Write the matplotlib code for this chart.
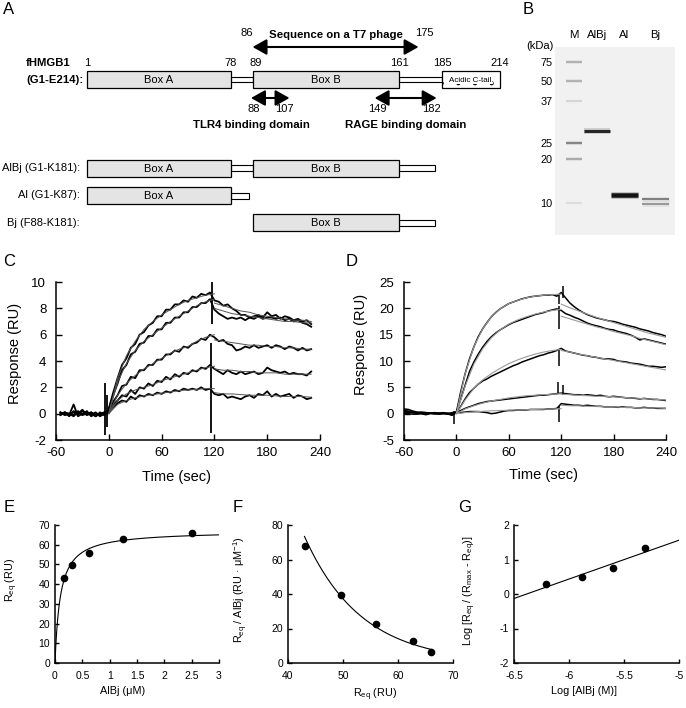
import numpy as np
import matplotlib
matplotlib.use("Agg")
import matplotlib.pyplot as plt
from matplotlib.patches import Rectangle
from matplotlib.ticker import FuncFormatter

plt.rcParams['font.family'] = ['Liberation Sans', 'DejaVu Sans']
plt.rcParams['mathtext.fontset'] = 'custom'
plt.rcParams['mathtext.rm'] = 'Liberation Sans'
plt.rcParams['mathtext.it'] = 'Liberation Sans:italic'
plt.rcParams['axes.unicode_minus'] = False
plt.rcParams['hatch.linewidth'] = 0.5

# ---------------- Panel A data (residue numbers) ----------------
res_anchor = [1, 78, 89, 161, 185, 214]
px_anchor = [87, 231, 253, 399, 442, 500]
full_numbers = [1, 78, 89, 161, 185, 214]
box_names = ["Box A", "Box B"]
box_start = [1, 89]
box_end = [78, 161]
linker_start = [78, 161]
linker_end = [89, 185]
acidic_range = (185, 214)
t7_range = (86, 175)
tlr4_range = (88, 107)
rage_range = (149, 182)
construct_names = ["AlBj (G1-K181):", "Al (G1-K87):", "Bj (F88-K181):"]
construct_start = [1, 1, 88]
construct_end = [181, 87, 181]

# ---------------- Panel B data (gel) ----------------
gel_lanes = ["M", "AlBj", "Al", "Bj"]
marker_kda = [75, 50, 37, 25, 20, 10]
marker_mig = [15, 34, 54, 96, 112, 156]
marker_dark = [0.35, 0.35, 0.18, 0.55, 0.38, 0.15]
band_lane = ["AlBj", "Al", "Bj", "Bj"]
band_mig = [84, 148, 152, 157]
band_dark = [0.85, 0.92, 0.5, 0.4]
band_thick = [3.0, 4.5, 2.0, 2.0]

# ---------------- Panel C data (sensorgrams) ----------------
t_c = np.arange(-55, 231, 5)
c_resp = [
    [-0.1, 0.1, -0.2, 0.2, 0.0, 0.3, -0.1, 0.1, -0.2, 0.0, -0.1,
     0.4, 1.6, 2.7, 3.7, 4.2, 5.0, 5.3, 6.0, 6.2, 6.7, 6.9, 7.4, 7.4, 7.9, 7.9, 8.3, 8.3, 8.6, 8.5, 8.9, 8.8, 9.1, 9.0, 9.2,
     8.6, 8.5, 8.2, 8.3, 8.0, 7.8, 7.5, 7.5, 7.3, 7.4, 7.5, 7.3, 7.7, 7.4, 7.5, 7.2, 7.4, 7.3, 7.1, 7.2, 7.0, 7.1, 6.8],
    [0.1, -0.1, 0.0, -0.2, 0.1, -0.1, 0.2, -0.2, 0.0, -0.1, 0.1,
     0.3, 1.4, 2.3, 3.3, 3.7, 4.5, 4.7, 5.3, 5.4, 5.9, 5.9, 6.4, 6.4, 6.9, 6.9, 7.3, 7.3, 7.7, 7.7, 8.1, 8.1, 8.4, 8.4, 8.7,
     7.9, 7.6, 7.4, 7.2, 7.3, 7.2, 7.3, 7.1, 7.3, 7.2, 7.4, 7.2, 7.3, 7.3, 7.2, 7.3, 7.1, 7.2, 7.0, 7.1, 6.9, 6.8, 6.6],
    [0.0, 0.1, -0.1, 0.7, -0.2, 0.0, 0.1, -0.1, 0.1, -0.2, 0.0,
     0.2, 0.9, 1.4, 2.1, 2.2, 2.8, 2.7, 3.3, 3.3, 3.7, 3.7, 4.1, 4.1, 4.5, 4.5, 4.8, 4.7, 5.1, 5.0, 5.3, 5.4, 5.7, 5.6, 6.0,
     5.8, 5.5, 5.6, 5.3, 5.2, 4.8, 4.9, 5.1, 5.0, 5.2, 5.0, 5.1, 5.2, 5.0, 5.2, 5.1, 4.9, 5.1, 5.0, 4.8, 5.0, 4.8, 4.9],
    [0.1, -0.1, 0.0, 0.1, -0.1, 0.2, -0.1, 0.0, -0.2, 0.1, -0.1,
     0.1, 0.7, 1.0, 1.4, 1.3, 1.8, 1.5, 2.0, 1.9, 2.3, 2.1, 2.5, 2.4, 2.8, 2.6, 3.0, 2.8, 3.1, 3.0, 3.3, 3.2, 3.5, 3.4, 3.7,
     3.4, 3.2, 3.0, 3.3, 3.1, 3.0, 3.2, 3.0, 3.1, 3.2, 3.0, 3.1, 3.5, 3.3, 3.2, 3.1, 3.2, 3.0, 3.1, 3.0, 3.0, 2.9, 3.2],
    [-0.1, 0.1, 0.0, -0.1, 0.2, -0.1, 0.0, 0.1, -0.1, 0.0, 0.1,
     0.1, 0.5, 0.8, 1.0, 0.9, 1.3, 1.1, 1.4, 1.3, 1.5, 1.4, 1.6, 1.5, 1.7, 1.6, 1.8, 1.7, 1.9, 1.8, 1.9, 1.8, 2.0, 1.8, 1.9,
     1.5, 1.4, 1.5, 1.2, 1.3, 1.2, 1.1, 1.3, 1.4, 1.2, 1.5, 1.4, 1.7, 1.3, 1.5, 1.3, 1.4, 1.5, 1.2, 1.4, 1.3, 1.1, 1.2],
]
t_fit_assoc = np.arange(0, 121, 10)
t_c_fit_dis = np.arange(120, 231, 10)
c_fit_assoc = [
    [0, 2.7, 4.4, 5.5, 6.4, 7.0, 7.5, 7.9, 8.3, 8.6, 8.8, 9.0, 9.1],
    [0, 2.4, 3.8, 4.8, 5.5, 6.0, 6.5, 7.0, 7.4, 7.8, 8.2, 8.5, 8.7],
    [0, 1.4, 2.3, 2.9, 3.4, 3.8, 4.2, 4.6, 4.9, 5.1, 5.5, 5.8, 6.0],
    [0, 1.0, 1.5, 1.8, 2.0, 2.2, 2.5, 2.7, 2.9, 3.1, 3.3, 3.5, 3.6],
    [0, 0.7, 1.0, 1.2, 1.35, 1.45, 1.55, 1.65, 1.75, 1.8, 1.85, 1.9, 1.9],
]
c_fit_dis = [
    [8.4, 8.2, 8.0, 7.8, 7.7, 7.5, 7.4, 7.3, 7.2, 7.1, 7.1, 7.0],
    [8.0, 7.8, 7.6, 7.5, 7.4, 7.3, 7.2, 7.1, 7.0, 7.0, 6.9, 6.9],
    [5.6, 5.5, 5.4, 5.3, 5.2, 5.2, 5.1, 5.1, 5.0, 5.0, 4.9, 4.9],
    [3.4, 3.3, 3.3, 3.2, 3.2, 3.1, 3.1, 3.1, 3.0, 3.0, 3.0, 3.0],
    [1.6, 1.5, 1.5, 1.45, 1.4, 1.4, 1.4, 1.35, 1.3, 1.3, 1.3, 1.25],
]
c_spike_t = [-4, -2, 116, 117]
c_spike_lo = [-1.6, -1.0, -1.45, 6.8]
c_spike_hi = [2.3, 1.4, 5.4, 10.0]

# ---------------- Panel D data (sensorgrams) ----------------
t_d = np.arange(-60, 241, 5)
d_resp = [
    [0.4, 0.3, 0.3, 0.2, 0.3, 0.2, 0.1, 0.2, 0.1, 0.2, 0.0, -0.2,
     0.3, 4.2, 7.6, 10.4, 12.7, 14.6, 16.1, 17.3, 18.4, 19.2, 19.9, 20.4, 20.9, 21.2, 21.5, 21.8, 22.0, 22.2, 22.3, 22.4, 22.5, 22.5, 22.6, 22.3,
     23.0, 22.0, 21.0, 20.3, 19.7, 19.2, 18.8, 18.5, 18.2, 18.0, 17.8, 17.6, 17.5, 17.3, 17.0, 16.8, 16.6, 16.4, 16.1, 15.9, 15.7, 15.4, 15.2, 15.0, 14.7],
    [0.9, 0.8, 0.5, 0.3, 0.2, 0.2, 0.1, 0.1, 0.0, 0.1, 0.0, 0.2,
     0.3, 2.8, 5.4, 8.0, 9.8, 11.3, 12.6, 13.7, 14.6, 15.3, 15.9, 16.4, 16.9, 17.3, 17.6, 17.9, 18.2, 18.5, 18.8, 19.0, 19.2, 19.5, 19.7, 19.9,
     19.6, 19.0, 18.7, 18.3, 18.0, 17.6, 17.2, 16.9, 16.7, 16.5, 16.2, 16.0, 15.9, 15.6, 15.4, 15.2, 14.9, 14.5, 14.0, 14.2, 14.0, 13.8, 13.6, 13.4, 13.2],
    [0.3, 0.2, 0.2, 0.1, 0.0, -0.1, 0.1, 0.0, 0.1, 0.1, 0.0, -0.3,
     0.2, 1.4, 2.8, 4.0, 4.8, 5.6, 6.2, 6.6, 7.1, 7.5, 7.9, 8.3, 8.7, 9.1, 9.4, 9.8, 10.1, 10.4, 10.7, 11.0, 11.2, 11.5, 11.7, 12.0,
     12.4, 11.9, 11.7, 11.5, 11.3, 11.1, 11.0, 10.8, 10.7, 10.5, 10.4, 10.4, 10.3, 10.0, 9.9, 9.8, 9.6, 9.5, 9.4, 9.2, 9.0, 9.0, 8.9, 8.8, 8.9],
    [0.1, 0.0, -0.1, -0.1, 0.0, -0.2, 0.0, 0.0, -0.1, 0.0, 0.1, 0.0,
     0.3, 0.6, 1.0, 1.3, 1.6, 1.9, 2.1, 2.3, 2.4, 2.5, 2.6, 2.7, 2.8, 2.9, 3.0, 3.1, 3.2, 3.3, 3.4, 3.5, 3.5, 3.6, 3.7, 3.8,
     3.9, 3.8, 3.7, 3.6, 3.6, 3.5, 3.6, 3.5, 3.4, 3.5, 3.3, 3.2, 3.3, 3.2, 3.1, 3.0, 3.0, 2.9, 2.8, 2.9, 2.8, 2.7, 2.7, 2.6, 2.5],
    [0.6, 0.5, 0.2, 0.1, 0.1, 0.0, 0.1, 0.0, 0.0, 0.0, -0.1, -0.2,
     0.2, 0.2, 0.3, 0.4, 0.4, 0.4, 0.3, 0.2, 0.0, 0.1, 0.3, 0.5, 0.6, 0.6, 0.7, 0.7, 0.7, 0.8, 0.8, 0.8, 0.8, 0.9, 0.9, 1.0,
     1.9, 1.8, 1.7, 1.6, 1.6, 1.5, 1.6, 1.5, 1.4, 1.4, 1.3, 1.3, 1.3, 1.2, 1.3, 1.2, 1.2, 1.1, 1.1, 1.2, 1.1, 1.1, 1.0, 1.0, 1.0],
]
t_d_fit_dis = np.arange(120, 241, 10)
d_fit_assoc = [
    [0, 7.6, 12.7, 16.1, 18.4, 19.9, 20.9, 21.5, 22.0, 22.3, 22.5, 22.6, 22.7],
    [0, 5.2, 9.4, 12.3, 14.4, 15.9, 17.0, 17.8, 18.4, 18.9, 19.3, 19.6, 19.8],
    [0, 2.6, 4.8, 6.4, 7.6, 8.6, 9.5, 10.2, 10.8, 11.3, 11.7, 12.0, 12.2],
    [0, 0.9, 1.5, 2.0, 2.4, 2.7, 3.0, 3.2, 3.4, 3.5, 3.6, 3.7, 3.8],
    [0, 0.2, 0.35, 0.45, 0.55, 0.6, 0.65, 0.7, 0.75, 0.8, 0.85, 0.9, 0.95],
]
d_fit_dis = [
    [20.8, 20.1, 19.5, 18.9, 18.3, 17.8, 17.3, 16.8, 16.3, 15.8, 15.3, 14.9, 14.5],
    [18.5, 18.0, 17.5, 17.0, 16.5, 16.1, 15.6, 15.2, 14.8, 14.3, 13.9, 13.5, 13.1],
    [12.0, 11.7, 11.3, 11.0, 10.7, 10.4, 10.1, 9.8, 9.5, 9.2, 8.9, 8.6, 8.3],
    [3.7, 3.6, 3.5, 3.4, 3.3, 3.3, 3.2, 3.1, 3.0, 2.9, 2.8, 2.7, 2.6],
    [1.6, 1.5, 1.5, 1.4, 1.4, 1.3, 1.3, 1.2, 1.2, 1.1, 1.1, 1.1, 1.0],
]
d_spike_t = [-3, 116, 118, 118, 118, 118, 122, 122]
d_spike_lo = [-2.0, 3.8, 20.8, 16.0, 9.0, -1.5, 3.6, 22.0]
d_spike_hi = [0.5, 6.1, 22.6, 20.5, 12.3, 1.5, 5.5, 24.2]

# ---------------- Panels E-G data ----------------
albj_conc = np.array([0.156, 0.3125, 0.625, 1.25, 2.5])      # uM
req_ru = np.array([43.0, 49.7, 56.0, 62.7, 66.0])
scatchard_y = np.array([68.0, 39.4, 22.4, 12.9, 6.5])
hill_x = np.array([-6.21, -5.88, -5.60, -5.31])
hill_y = np.array([0.29, 0.49, 0.75, 1.33])

# ================= Figure =================
W, H = 686, 708
fig = plt.figure(figsize=(W / 100, H / 100), dpi=100)


def px_axes(l, t, r, b):
    return fig.add_axes([l / W, 1 - b / H, (r - l) / W, (b - t) / H])


ax0 = fig.add_axes([0, 0, 1, 1])
ax0.set_xlim(0, W)
ax0.set_ylim(H, 0)
ax0.axis('off')


def rx(r):
    return float(np.interp(r, res_anchor, px_anchor))


box_fc = '#e4e4e4'
afs = 8
# panel letters
for lab, x, y in [("A", 9, 10), ("B", 528, 10), ("C", 9, 262), ("D", 352, 262),
                  ("E", 9, 507), ("F", 238, 507), ("G", 465, 507)]:
    ax0.text(x, y, lab, fontsize=12, ha='center', va='center')

# ---- full-length row ----
fy, bh, lh = 79.5, 17, 5
for s, e in zip(linker_start, linker_end):
    ax0.add_patch(Rectangle((rx(s), fy - lh / 2), rx(e) - rx(s), lh, fc='white', ec='black', lw=0.8, zorder=1))
for name, s, e in zip(box_names, box_start, box_end):
    ax0.add_patch(Rectangle((rx(s), fy - bh / 2), rx(e) - rx(s), bh, fc=box_fc, ec='black', lw=0.9, zorder=2))
    ax0.text((rx(s) + rx(e)) / 2, fy + 0.5, name, fontsize=afs, ha='center', va='center', zorder=3)
a0, a1 = acidic_range
ax0.add_patch(Rectangle((rx(a0), fy - bh / 2), rx(a1) - rx(a0), bh, fc='white', ec='black', lw=0.9,
                        hatch='.', zorder=2))
ax0.text((rx(a0) + rx(a1)) / 2, fy + 0.5, "Acidic C-tail.", fontsize=5.8, ha='center', va='center', zorder=3,
         bbox=dict(fc='white', ec='none', pad=0.2))
for n in full_numbers:
    ax0.text(rx(n) + (3 if n == 89 else 0), 63, str(n), fontsize=afs, ha='center', va='center')
ax0.text(26, 63, "fHMGB1", fontsize=8.2, fontweight='bold', ha='left', va='center')
ax0.text(26, 80, "(G1-E214):", fontsize=8.2, fontweight='bold', ha='left', va='center')

# arrows
arrow_kw = dict(arrowstyle='<|-|>,head_length=0.5,head_width=0.28', color='black', lw=1.5, mutation_scale=17)
ax0.annotate('', xy=(rx(t7_range[1]), 47), xytext=(rx(t7_range[0]), 47),
             arrowprops=dict(shrinkA=4, shrinkB=4, **arrow_kw))
ax0.text(rx(t7_range[0]), 33, str(t7_range[0]), fontsize=afs, ha='center', va='center')
ax0.text(rx(t7_range[1]), 33, str(t7_range[1]), fontsize=afs, ha='center', va='center')
ax0.text((rx(t7_range[0]) + rx(t7_range[1])) / 2, 35, "Sequence on a T7 phage", fontsize=8.2,
         fontweight='bold', ha='center', va='center')

for rng, name, tx in [(tlr4_range, "TLR4 binding domain", rx(tlr4_range[0])),
                      (rage_range, "RAGE binding domain", (rx(rage_range[0]) + rx(rage_range[1])) / 2)]:
    ax0.annotate('', xy=(rx(rng[1]), 98), xytext=(rx(rng[0]), 98),
                 arrowprops=dict(shrinkA=0, shrinkB=0, **arrow_kw))
    ax0.text(rx(rng[0]) + 3, 109, str(rng[0]), fontsize=afs, ha='center', va='center')
    ax0.text(rx(rng[1]) - 5, 109, str(rng[1]), fontsize=afs, ha='center', va='center')
    ax0.text(tx, 125, name, fontsize=8.2, fontweight='bold', ha='center', va='center')

# ---- construct rows ----
row_y = [168, 195.5, 222.5]
th = 6
for name, s, e, y in zip(construct_names, construct_start, construct_end, row_y):
    for ls, le in zip(linker_start, linker_end):
        s2, e2 = max(s, ls), min(e, le)
        if e2 - s2 > 1.5:
            ax0.add_patch(Rectangle((rx(s2), y - th / 2), rx(e2) - rx(s2), th, fc='white', ec='black',
                                    lw=0.8, zorder=1))
    for bn, bs, be in zip(box_names, box_start, box_end):
        s2, e2 = max(s, bs), min(e, be)
        if e2 > s2:
            ax0.add_patch(Rectangle((rx(s2), y - bh / 2), rx(e2) - rx(s2), bh, fc=box_fc, ec='black',
                                    lw=0.9, zorder=2))
            ax0.text((rx(s2) + rx(e2)) / 2, y + 0.5, bn, fontsize=afs, ha='center', va='center', zorder=3)
    ax0.text(80, y, name, fontsize=afs, ha='right', va='center')

# ================= Panel B: gel =================
axg = px_axes(555, 47, 675, 235)
axg.set_xlim(0, 120)
axg.set_ylim(188, 0)
axg.set_facecolor('#f1f1f1')
for s in axg.spines.values():
    s.set_visible(False)
lane_x = {"M": 19, "AlBj": 42, "Al": 69, "Bj": 100}
lane_w = {"M": 16, "AlBj": 26, "Al": 27, "Bj": 27}
px_pt = 0.72


def band(ax, lane, mig, dark, thick):
    x0 = lane_x[lane] - lane_w[lane] / 2
    x1 = lane_x[lane] + lane_w[lane] / 2
    g = 1 - dark
    ax.hlines(mig, x0, x1, color=str(min(1, g + (1 - g) * 0.6)), lw=(thick + 2.5) * px_pt, alpha=0.6)
    ax.hlines(mig, x0, x1, color=str(g), lw=thick * px_pt)


for m, d in zip(marker_mig, marker_dark):
    band(axg, "M", m, d, 1.6)
for ln, m, d, t in zip(band_lane, band_mig, band_dark, band_thick):
    band(axg, ln, m, d, t)
axg.set_xticks([])
axg.set_yticks(marker_mig)
axg.set_yticklabels([str(k) for k in marker_kda], fontsize=7.8)
axg.tick_params(axis='y', length=0, pad=2)
axg.text(-1, -1, "(kDa)", fontsize=8, ha='right', va='center', clip_on=False)
for ln in gel_lanes:
    axg.text(lane_x[ln], -12, ln, fontsize=8.2, ha='center', va='center', clip_on=False)


# ================= common axis style =================
def style(ax, fs, xpad, ypad, tl):
    for s in ['top', 'right']:
        ax.spines[s].set_visible(False)
    for s in ['left', 'bottom']:
        ax.spines[s].set_linewidth(1.1)
    ax.tick_params(direction='in', length=tl, width=1.0, labelsize=fs)
    ax.tick_params(axis='x', pad=xpad)
    ax.tick_params(axis='y', pad=ypad)


gfmt = FuncFormatter(lambda v, p: '%g' % v)

# ================= Panel C =================
axc = px_axes(56, 282, 320, 440)
for fa, fd in zip(c_fit_assoc, c_fit_dis):
    axc.plot(t_fit_assoc, fa, color='#555555', lw=0.7, zorder=3)
    axc.plot(t_c_fit_dis, fd, color='#555555', lw=0.7, zorder=3)
for r in c_resp:
    axc.plot(t_c, r, color='black', lw=1.3, zorder=2)
axc.vlines(c_spike_t, c_spike_lo, c_spike_hi, color='black', lw=1.3, zorder=2)
axc.set_xlim(-60, 240)
axc.set_ylim(-2, 10)
axc.set_xticks([-60, 0, 60, 120, 180, 240])
axc.set_yticks([-2, 0, 2, 4, 6, 8, 10])
style(axc, 9.5, 5, 7, 4)
axc.set_xlabel("Time (sec)", fontsize=10.5)
axc.set_ylabel("Response (RU)", fontsize=10.5)
axc.xaxis.set_label_coords(0.455, -0.19)
axc.yaxis.set_label_coords(-0.129, 0.547)

# ================= Panel D =================
axd = px_axes(404, 282, 666, 440)
for r in d_resp:
    axd.plot(t_d, r, color='black', lw=1.1, zorder=2)
axd.vlines(d_spike_t, d_spike_lo, d_spike_hi, color='black', lw=1.1, zorder=2)
for fa, fd in zip(d_fit_assoc, d_fit_dis):
    axd.plot(t_fit_assoc, fa, color='#9a9a9a', lw=0.8, zorder=3)
    axd.plot(t_d_fit_dis, fd, color='#9a9a9a', lw=0.8, zorder=3)
axd.set_xlim(-60, 240)
axd.set_ylim(-5, 25)
axd.set_xticks([-60, 0, 60, 120, 180, 240])
axd.set_yticks([-5, 0, 5, 10, 15, 20, 25])
style(axd, 9.5, 5, 7, 4)
axd.set_xlabel("Time (sec)", fontsize=10.5)
axd.set_ylabel("Response (RU)", fontsize=10.5)
axd.xaxis.set_label_coords(0.534, -0.177)
axd.yaxis.set_label_coords(-0.137, 0.604)

# ================= Panel E =================
axe = px_axes(55, 525, 219, 663)
kd_grid = np.linspace(0.005, 1.0, 4000)
best = (np.inf, 0, 0)
for kd in kd_grid:
    f = albj_conc / (kd + albj_conc)
    rmax = (f @ req_ru) / (f @ f)
    sse = np.sum((req_ru - rmax * f) ** 2)
    if sse < best[0]:
        best = (sse, kd, rmax)
_, kd_fit, rmax_fit = best
xs = np.linspace(0, 3, 600)
axe.plot(xs, rmax_fit * xs / (kd_fit + xs), color='black', lw=0.8)
axe.plot(albj_conc, req_ru, 'o', color='black', ms=4.5)
axe.set_xlim(0, 3)
axe.set_ylim(0, 70)
axe.set_xticks([0, 0.5, 1, 1.5, 2, 2.5, 3])
axe.set_yticks(range(0, 71, 10))
axe.xaxis.set_major_formatter(gfmt)
style(axe, 7.5, 6, 3.5, 3)
axe.set_xlabel("AlBj (μM)", fontsize=7.8)
axe.set_ylabel(r"$\mathregular{R_{eq}}$ (RU)", fontsize=7.8)
axe.xaxis.set_label_coords(0.41, -0.17)
axe.yaxis.set_label_coords(-0.213, 0.60)

# ================= Panel F =================
axf = px_axes(288, 525, 453, 663)
pf = np.polyfit(req_ru, np.log(scatchard_y), 1)
xs = np.linspace(req_ru.min(), req_ru.max(), 300)
axf.plot(xs, np.exp(np.polyval(pf, xs)), color='black', lw=0.8)
axf.plot(req_ru, scatchard_y, 'o', color='black', ms=4.5)
axf.set_xlim(40, 70)
axf.set_ylim(0, 80)
axf.set_xticks([40, 50, 60, 70])
axf.set_yticks([0, 20, 40, 60, 80])
style(axf, 7.5, 6, 3.5, 3)
axf.set_xlabel(r"$\mathregular{R_{eq}}$ (RU)", fontsize=7.8)
axf.set_ylabel(r"$\mathregular{R_{eq}}$ / AlBj (RU · μM$\mathregular{^{-1}}$)", fontsize=7.8)
axf.xaxis.set_label_coords(0.527, -0.17)
axf.yaxis.set_label_coords(-0.23, 0.53)

# ================= Panel G =================
axh = px_axes(514, 525, 679, 663)
pg = np.polyfit(hill_x, hill_y, 1)
xs = np.array([-6.5, -5.0])
axh.plot(xs, np.polyval(pg, xs), color='black', lw=0.8)
axh.plot(hill_x, hill_y, 'o', color='black', ms=4.5)
axh.set_xlim(-6.5, -5)
axh.set_ylim(-2, 2)
axh.set_xticks([-6.5, -6, -5.5, -5])
axh.set_yticks([-2, -1, 0, 1, 2])
axh.xaxis.set_major_formatter(gfmt)
style(axh, 7.5, 6, 3.5, 3)
axh.set_xlabel("Log [AlBj (M)]", fontsize=7.8)
axh.set_ylabel(r"Log [$\mathregular{R_{eq}}$ / ($\mathregular{R_{max}}$ - $\mathregular{R_{eq}}$)]", fontsize=7.8)
axh.xaxis.set_label_coords(0.426, -0.17)
axh.yaxis.set_label_coords(-0.218, 0.52)

fig.savefig("out.png", dpi=100)
